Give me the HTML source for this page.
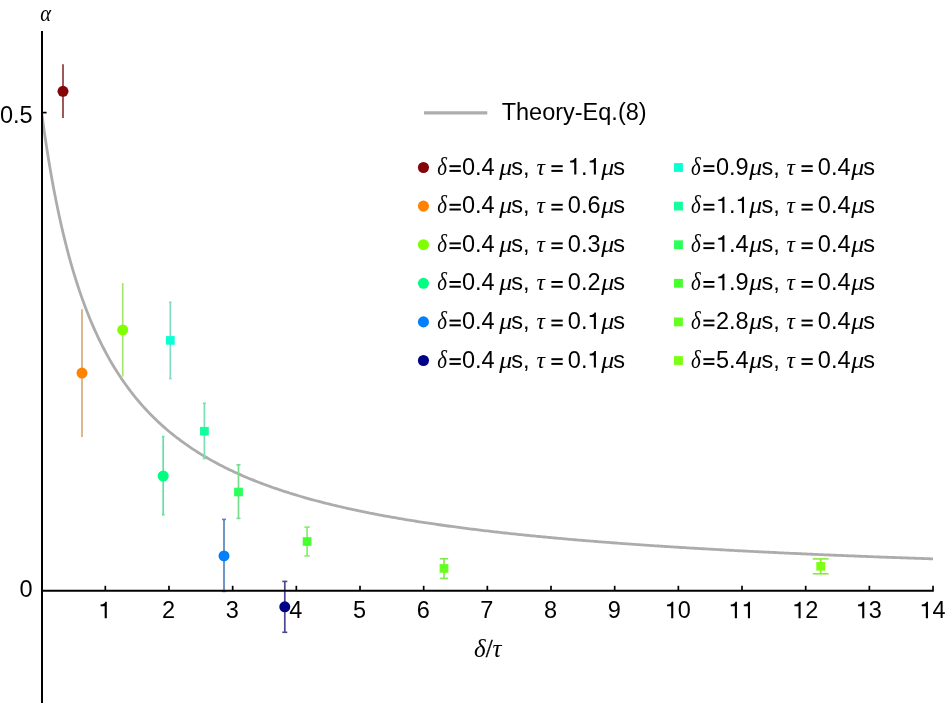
<!DOCTYPE html><html><head><meta charset="utf-8"><style>
html,body{margin:0;padding:0;background:#fff;overflow:hidden;}
svg{display:block;will-change:transform;}
.s{font-family:"Liberation Sans",sans-serif;}
.i{font-family:"Liberation Serif",serif;font-style:italic;}
.r{font-family:"Liberation Serif",serif;}
</style></head><body>
<svg width="946" height="703" viewBox="0 0 946 703">
<defs><path id="one" d="M362 0 L362 700 L298 700 C284 640 236 592 97 581 L97 511 L272 511 L272 0 Z"/>
<clipPath id="cp"><rect x="42" y="0" width="904" height="703"/></clipPath></defs>
<polyline clip-path="url(#cp)" points="41.65,112.60 43.43,125.62 45.22,137.96 47.00,149.65 48.78,160.76 50.56,171.32 52.35,181.38 54.13,190.96 55.91,200.10 57.69,208.84 59.48,217.20 61.26,225.19 63.04,232.85 64.83,240.20 66.61,247.25 68.39,254.02 70.17,260.54 71.96,266.80 73.74,272.83 75.52,278.64 77.31,284.24 79.09,289.65 80.87,294.87 82.65,299.90 84.44,304.78 86.22,309.49 88.00,314.04 89.78,318.46 91.57,322.73 93.35,326.87 95.13,330.89 96.92,334.78 98.70,338.56 100.48,342.23 102.26,345.80 104.05,349.26 105.83,352.63 107.61,355.90 109.39,359.09 111.18,362.19 112.96,365.21 114.74,368.15 116.53,371.01 118.31,373.80 120.09,376.53 121.87,379.18 123.66,381.77 125.44,384.29 127.22,386.76 129.01,389.17 130.79,391.52 132.57,393.82 134.35,396.06 136.14,398.26 137.92,400.40 139.70,402.50 141.48,404.55 143.27,406.56 145.05,408.53 146.83,410.45 148.62,412.34 150.40,414.18 152.18,415.99 153.96,417.76 155.75,419.49 157.53,421.19 159.31,422.86 161.09,424.49 162.88,426.10 164.66,427.67 166.44,429.21 168.23,430.73 170.01,432.21 171.79,433.67 173.57,435.10 175.36,436.51 177.14,437.89 178.92,439.24 180.71,440.58 182.49,441.89 184.27,443.17 186.05,444.44 187.84,445.68 189.62,446.90 191.40,448.10 193.18,449.29 194.97,450.45 196.75,451.59 198.53,452.72 200.32,453.82 202.10,454.91 203.88,455.98 205.66,457.04 207.45,458.08 209.23,459.10 211.01,460.11 212.79,461.10 214.58,462.08 216.36,463.04 218.14,463.99 219.93,464.92 221.71,465.84 223.49,466.75 225.27,467.64 227.06,468.52 228.84,469.39 230.62,470.25 232.41,471.09 234.19,471.93 235.97,472.75 237.75,473.56 239.54,474.36 241.32,475.14 243.10,475.92 244.88,476.69 246.67,477.44 248.45,478.19 250.23,478.93 252.02,479.66 253.80,480.37 255.58,481.08 257.36,481.78 259.15,482.47 260.93,483.16 262.71,483.83 264.50,484.49 266.28,485.15 268.06,485.80 269.84,486.44 271.63,487.07 273.41,487.70 275.19,488.32 276.97,488.93 278.76,489.53 280.54,490.13 282.32,490.72 284.11,491.30 285.89,491.88 287.67,492.45 289.45,493.01 291.24,493.57 293.02,494.11 294.80,494.66 296.58,495.20 298.37,495.73 300.15,496.25 301.93,496.77 303.72,497.29 305.50,497.80 307.28,498.30 309.06,498.80 310.85,499.29 312.63,499.78 314.41,500.26 316.20,500.74 317.98,501.21 319.76,501.68 321.54,502.14 323.33,502.60 325.11,503.05 326.89,503.50 328.67,503.94 330.46,504.38 332.24,504.81 334.02,505.24 335.81,505.67 337.59,506.09 339.37,506.51 341.15,506.92 342.94,507.33 344.72,507.74 346.50,508.14 348.28,508.54 350.07,508.93 351.85,509.32 353.63,509.71 355.42,510.09 357.20,510.47 358.98,510.85 360.76,511.22 362.55,511.59 364.33,511.95 366.11,512.31 367.90,512.67 369.68,513.03 371.46,513.38 373.24,513.73 375.03,514.07 376.81,514.42 378.59,514.76 380.37,515.09 382.16,515.43 383.94,515.76 385.72,516.09 387.51,516.41 389.29,516.73 391.07,517.05 392.85,517.37 394.64,517.68 396.42,517.99 398.20,518.30 399.98,518.61 401.77,518.91 403.55,519.21 405.33,519.51 407.12,519.81 408.90,520.10 410.68,520.39 412.46,520.68 414.25,520.97 416.03,521.25 417.81,521.53 419.60,521.81 421.38,522.09 423.16,522.36 424.94,522.64 426.73,522.91 428.51,523.18 430.29,523.44 432.07,523.71 433.86,523.97 435.64,524.23 437.42,524.49 439.21,524.74 440.99,525.00 442.77,525.25 444.55,525.50 446.34,525.75 448.12,526.00 449.90,526.24 451.68,526.48 453.47,526.72 455.25,526.96 457.03,527.20 458.82,527.44 460.60,527.67 462.38,527.90 464.16,528.13 465.95,528.36 467.73,528.59 469.51,528.81 471.30,529.04 473.08,529.26 474.86,529.48 476.64,529.70 478.43,529.92 480.21,530.13 481.99,530.35 483.77,530.56 485.56,530.77 487.34,530.98 489.12,531.19 490.91,531.40 492.69,531.60 494.47,531.81 496.25,532.01 498.04,532.21 499.82,532.41 501.60,532.61 503.38,532.81 505.17,533.00 506.95,533.20 508.73,533.39 510.52,533.58 512.30,533.77 514.08,533.96 515.86,534.15 517.65,534.34 519.43,534.52 521.21,534.71 523.00,534.89 524.78,535.07 526.56,535.25 528.34,535.43 530.13,535.61 531.91,535.79 533.69,535.97 535.47,536.14 537.26,536.32 539.04,536.49 540.82,536.66 542.61,536.83 544.39,537.00 546.17,537.17 547.95,537.34 549.74,537.50 551.52,537.67 553.30,537.83 555.08,538.00 556.87,538.16 558.65,538.32 560.43,538.48 562.22,538.64 564.00,538.80 565.78,538.96 567.56,539.11 569.35,539.27 571.13,539.42 572.91,539.58 574.70,539.73 576.48,539.88 578.26,540.03 580.04,540.18 581.83,540.33 583.61,540.48 585.39,540.63 587.17,540.78 588.96,540.92 590.74,541.07 592.52,541.21 594.31,541.35 596.09,541.50 597.87,541.64 599.65,541.78 601.44,541.92 603.22,542.06 605.00,542.20 606.78,542.33 608.57,542.47 610.35,542.61 612.13,542.74 613.92,542.88 615.70,543.01 617.48,543.14 619.26,543.28 621.05,543.41 622.83,543.54 624.61,543.67 626.40,543.80 628.18,543.93 629.96,544.06 631.74,544.18 633.53,544.31 635.31,544.44 637.09,544.56 638.87,544.69 640.66,544.81 642.44,544.93 644.22,545.06 646.01,545.18 647.79,545.30 649.57,545.42 651.35,545.54 653.14,545.66 654.92,545.78 656.70,545.90 658.48,546.01 660.27,546.13 662.05,546.25 663.83,546.36 665.62,546.48 667.40,546.59 669.18,546.71 670.96,546.82 672.75,546.93 674.53,547.04 676.31,547.15 678.10,547.27 679.88,547.38 681.66,547.49 683.44,547.60 685.23,547.70 687.01,547.81 688.79,547.92 690.57,548.03 692.36,548.13 694.14,548.24 695.92,548.35 697.71,548.45 699.49,548.56 701.27,548.66 703.05,548.76 704.84,548.87 706.62,548.97 708.40,549.07 710.18,549.17 711.97,549.27 713.75,549.37 715.53,549.47 717.32,549.57 719.10,549.67 720.88,549.77 722.66,549.87 724.45,549.97 726.23,550.06 728.01,550.16 729.80,550.26 731.58,550.35 733.36,550.45 735.14,550.54 736.93,550.64 738.71,550.73 740.49,550.82 742.27,550.92 744.06,551.01 745.84,551.10 747.62,551.19 749.41,551.29 751.19,551.38 752.97,551.47 754.75,551.56 756.54,551.65 758.32,551.74 760.10,551.83 761.89,551.91 763.67,552.00 765.45,552.09 767.23,552.18 769.02,552.26 770.80,552.35 772.58,552.44 774.36,552.52 776.15,552.61 777.93,552.69 779.71,552.78 781.50,552.86 783.28,552.95 785.06,553.03 786.84,553.11 788.63,553.20 790.41,553.28 792.19,553.36 793.97,553.44 795.76,553.52 797.54,553.60 799.32,553.68 801.11,553.76 802.89,553.84 804.67,553.92 806.45,554.00 808.24,554.08 810.02,554.16 811.80,554.24 813.59,554.32 815.37,554.39 817.15,554.47 818.93,554.55 820.72,554.63 822.50,554.70 824.28,554.78 826.06,554.85 827.85,554.93 829.63,555.00 831.41,555.08 833.20,555.15 834.98,555.23 836.76,555.30 838.54,555.37 840.33,555.45 842.11,555.52 843.89,555.59 845.67,555.66 847.46,555.74 849.24,555.81 851.02,555.88 852.81,555.95 854.59,556.02 856.37,556.09 858.15,556.16 859.94,556.23 861.72,556.30 863.50,556.37 865.29,556.44 867.07,556.51 868.85,556.58 870.63,556.65 872.42,556.71 874.20,556.78 875.98,556.85 877.76,556.92 879.55,556.98 881.33,557.05 883.11,557.12 884.90,557.18 886.68,557.25 888.46,557.31 890.24,557.38 892.03,557.44 893.81,557.51 895.59,557.57 897.37,557.64 899.16,557.70 900.94,557.77 902.72,557.83 904.51,557.89 906.29,557.96 908.07,558.02 909.85,558.08 911.64,558.14 913.42,558.21 915.20,558.27 916.99,558.33 918.77,558.39 920.55,558.45 922.33,558.51 924.12,558.57 925.90,558.63 927.68,558.69 929.46,558.75 931.25,558.81 933.03,558.87" fill="none" stroke="#acacac" stroke-width="2.8" stroke-linejoin="round"/>
<use href="#one" transform="translate(98.29,618.20) scale(0.02350,-0.02350)"/>
<text class="s" x="161.96" y="618.20" font-size="23.50">2</text>
<text class="s" x="225.63" y="618.20" font-size="23.50">3</text>
<text class="s" x="289.30" y="618.20" font-size="23.50">4</text>
<text class="s" x="352.97" y="618.20" font-size="23.50">5</text>
<text class="s" x="416.64" y="618.20" font-size="23.50">6</text>
<text class="s" x="480.31" y="618.20" font-size="23.50">7</text>
<text class="s" x="543.98" y="618.20" font-size="23.50">8</text>
<text class="s" x="607.65" y="618.20" font-size="23.50">9</text>
<use href="#one" transform="translate(664.78,618.20) scale(0.02350,-0.02350)"/>
<text class="s" x="677.85" y="618.20" font-size="23.50">0</text>
<use href="#one" transform="translate(728.45,618.20) scale(0.02350,-0.02350)"/>
<use href="#one" transform="translate(741.52,618.20) scale(0.02350,-0.02350)"/>
<use href="#one" transform="translate(792.12,618.20) scale(0.02350,-0.02350)"/>
<text class="s" x="805.19" y="618.20" font-size="23.50">2</text>
<use href="#one" transform="translate(855.79,618.20) scale(0.02350,-0.02350)"/>
<text class="s" x="868.86" y="618.20" font-size="23.50">3</text>
<use href="#one" transform="translate(919.46,618.20) scale(0.02350,-0.02350)"/>
<text class="s" x="932.53" y="618.20" font-size="23.50">4</text>
<text class="s" x="-0.07" y="122.60" font-size="23.50">0.5</text>
<text class="s" x="19.53" y="596.60" font-size="23.50">0</text>
<text class="i" transform="translate(40.3,20.8) scale(0.855,1)" x="0" y="0" font-size="24">&#945;</text>
<text x="474.0" y="656.6" font-size="25"><tspan class="i">&#948;</tspan><tspan class="r" stroke="#000" stroke-width="0.35">/</tspan><tspan class="i">&#964;</tspan></text>
<line x1="170.30" y1="302.30" x2="170.30" y2="378.60" stroke="#82dcc8" stroke-width="1.7"/>
<line x1="169.00" y1="302.30" x2="171.60" y2="302.30" stroke="#82dcc8" stroke-width="1.6"/>
<line x1="169.00" y1="378.60" x2="171.60" y2="378.60" stroke="#82dcc8" stroke-width="1.6"/>
<line x1="204.40" y1="403.30" x2="204.40" y2="458.50" stroke="#78e1b4" stroke-width="1.7"/>
<line x1="202.75" y1="403.30" x2="206.05" y2="403.30" stroke="#78e1b4" stroke-width="1.6"/>
<line x1="202.75" y1="458.50" x2="206.05" y2="458.50" stroke="#78e1b4" stroke-width="1.6"/>
<line x1="238.50" y1="464.80" x2="238.50" y2="518.40" stroke="#78dc8c" stroke-width="1.7"/>
<line x1="236.50" y1="464.80" x2="240.50" y2="464.80" stroke="#78dc8c" stroke-width="1.6"/>
<line x1="236.50" y1="518.40" x2="240.50" y2="518.40" stroke="#78dc8c" stroke-width="1.6"/>
<line x1="307.10" y1="527.10" x2="307.10" y2="555.90" stroke="#82f06e" stroke-width="1.7"/>
<line x1="304.40" y1="527.10" x2="309.80" y2="527.10" stroke="#82f06e" stroke-width="1.6"/>
<line x1="304.40" y1="555.90" x2="309.80" y2="555.90" stroke="#82f06e" stroke-width="1.6"/>
<line x1="444.00" y1="558.80" x2="444.00" y2="578.40" stroke="#80ec50" stroke-width="1.7"/>
<line x1="439.90" y1="558.80" x2="448.10" y2="558.80" stroke="#80ec50" stroke-width="1.6"/>
<line x1="439.90" y1="578.40" x2="448.10" y2="578.40" stroke="#80ec50" stroke-width="1.6"/>
<line x1="820.70" y1="558.90" x2="820.70" y2="573.80" stroke="#88ea3c" stroke-width="1.7"/>
<line x1="812.80" y1="558.90" x2="828.60" y2="558.90" stroke="#88ea3c" stroke-width="1.6"/>
<line x1="812.80" y1="573.80" x2="828.60" y2="573.80" stroke="#88ea3c" stroke-width="1.6"/>
<line x1="63.00" y1="64.20" x2="63.00" y2="118.00" stroke="#8c3c3c" stroke-width="1.7"/>
<line x1="82.00" y1="309.30" x2="82.00" y2="437.00" stroke="#d7aa7d" stroke-width="1.7"/>
<line x1="122.70" y1="283.00" x2="122.70" y2="376.60" stroke="#aae66e" stroke-width="1.7"/>
<line x1="163.20" y1="436.60" x2="163.20" y2="514.80" stroke="#64e1a0" stroke-width="1.7"/>
<line x1="161.95" y1="436.60" x2="164.45" y2="436.60" stroke="#64e1a0" stroke-width="1.6"/>
<line x1="161.95" y1="514.80" x2="164.45" y2="514.80" stroke="#64e1a0" stroke-width="1.6"/>
<line x1="224.00" y1="519.40" x2="224.00" y2="591.40" stroke="#5584bb" stroke-width="1.7"/>
<line x1="222.05" y1="519.40" x2="225.95" y2="519.40" stroke="#5584bb" stroke-width="1.6"/>
<line x1="222.05" y1="591.40" x2="225.95" y2="591.40" stroke="#5584bb" stroke-width="1.6"/>
<line x1="284.80" y1="581.40" x2="284.80" y2="632.30" stroke="#4b4691" stroke-width="1.7"/>
<line x1="282.30" y1="581.40" x2="287.30" y2="581.40" stroke="#4b4691" stroke-width="1.6"/>
<line x1="282.30" y1="632.30" x2="287.30" y2="632.30" stroke="#4b4691" stroke-width="1.6"/>
<line x1="42" y1="31" x2="42" y2="703" stroke="#000" stroke-width="2"/>
<line x1="41" y1="590.8" x2="933.83" y2="590.8" stroke="#000" stroke-width="2"/>
<line x1="105.32" y1="585.8" x2="105.32" y2="590" stroke="#000" stroke-width="1.7"/>
<line x1="168.99" y1="585.8" x2="168.99" y2="590" stroke="#000" stroke-width="1.7"/>
<line x1="232.66" y1="585.8" x2="232.66" y2="590" stroke="#000" stroke-width="1.7"/>
<line x1="296.33" y1="585.8" x2="296.33" y2="590" stroke="#000" stroke-width="1.7"/>
<line x1="360.00" y1="585.8" x2="360.00" y2="590" stroke="#000" stroke-width="1.7"/>
<line x1="423.67" y1="585.8" x2="423.67" y2="590" stroke="#000" stroke-width="1.7"/>
<line x1="487.34" y1="585.8" x2="487.34" y2="590" stroke="#000" stroke-width="1.7"/>
<line x1="551.01" y1="585.8" x2="551.01" y2="590" stroke="#000" stroke-width="1.7"/>
<line x1="614.68" y1="585.8" x2="614.68" y2="590" stroke="#000" stroke-width="1.7"/>
<line x1="678.35" y1="585.8" x2="678.35" y2="590" stroke="#000" stroke-width="1.7"/>
<line x1="742.02" y1="585.8" x2="742.02" y2="590" stroke="#000" stroke-width="1.7"/>
<line x1="805.69" y1="585.8" x2="805.69" y2="590" stroke="#000" stroke-width="1.7"/>
<line x1="869.36" y1="585.8" x2="869.36" y2="590" stroke="#000" stroke-width="1.7"/>
<line x1="933.03" y1="585.8" x2="933.03" y2="590" stroke="#000" stroke-width="1.7"/>
<line x1="42" y1="112.6" x2="46.6" y2="112.6" stroke="#000" stroke-width="1.7"/>
<rect x="165.90" y="336.10" width="8.8" height="8.6" fill="#0affd2"/>
<rect x="200.00" y="426.90" width="8.8" height="8.6" fill="#14ff9b"/>
<rect x="234.10" y="487.70" width="8.8" height="8.6" fill="#2dff5a"/>
<rect x="302.70" y="537.20" width="8.8" height="8.6" fill="#46ff2d"/>
<rect x="439.60" y="564.10" width="8.8" height="8.6" fill="#64ff1e"/>
<rect x="816.30" y="562.00" width="8.8" height="8.6" fill="#7dff14"/>
<circle cx="63.00" cy="91.30" r="5.5" fill="#860408"/>
<circle cx="82.00" cy="373.10" r="5.5" fill="#ff8200"/>
<circle cx="122.70" cy="329.90" r="5.5" fill="#80ff00"/>
<circle cx="163.20" cy="476.00" r="5.5" fill="#00ff80"/>
<circle cx="224.00" cy="555.90" r="5.5" fill="#0080ff"/>
<circle cx="284.80" cy="606.80" r="5.5" fill="#020287"/>
<line x1="424" y1="112.85" x2="487.3" y2="112.85" stroke="#adadad" stroke-width="3.1"/>
<text class="s" x="501.67" y="120.2" font-size="23.50">Theory-Eq.(8)</text>
<circle cx="423.45" cy="167.50" r="5.55" fill="#860408"/>
<text class="i" transform="translate(437.19,174.50) scale(0.890,1.050)" x="0" y="0" font-size="23.5">&#948;</text>
<rect x="449.50" y="165.20" width="11.30" height="2.0" fill="#000"/>
<rect x="449.50" y="169.90" width="11.30" height="2.0" fill="#000"/>
<text class="s" x="462.03" y="174.50" font-size="23.50">0.4</text>
<text class="i" transform="translate(499.23,174.50) scale(1.100,0.950)" x="0" y="0" font-size="23.5">&#956;</text>
<text class="s" x="511.25" y="174.50" font-size="23.5">s,</text>
<text class="i" x="536.58" y="174.50" font-size="23.5">&#964;</text>
<rect x="551.40" y="165.20" width="11.30" height="2.0" fill="#000"/>
<rect x="551.40" y="169.90" width="11.30" height="2.0" fill="#000"/>
<use href="#one" transform="translate(567.83,174.50) scale(0.02350,-0.02350)"/>
<text class="s" x="580.90" y="174.50" font-size="23.50">.</text>
<use href="#one" transform="translate(587.43,174.50) scale(0.02350,-0.02350)"/>
<text class="i" transform="translate(601.13,174.50) scale(1.100,0.950)" x="0" y="0" font-size="23.5">&#956;</text>
<text class="s" x="613.35" y="174.50" font-size="23.5">s</text>
<rect x="674.0" y="163.10" width="8.9" height="8.8" fill="#0affd2"/>
<text class="i" transform="translate(691.09,174.50) scale(0.890,1.050)" x="0" y="0" font-size="23.5">&#948;</text>
<rect x="703.40" y="165.20" width="11.00" height="2.0" fill="#000"/>
<rect x="703.40" y="169.90" width="11.00" height="2.0" fill="#000"/>
<text class="s" x="715.93" y="174.50" font-size="23.50">0.9</text>
<text class="i" transform="translate(749.13,174.50) scale(1.100,0.950)" x="0" y="0" font-size="23.5">&#956;</text>
<text class="s" x="761.45" y="174.50" font-size="23.5">s,</text>
<text class="i" x="786.48" y="174.50" font-size="23.5">&#964;</text>
<rect x="801.50" y="165.20" width="11.20" height="2.0" fill="#000"/>
<rect x="801.50" y="169.90" width="11.20" height="2.0" fill="#000"/>
<text class="s" x="817.83" y="174.50" font-size="23.50">0.4</text>
<text class="i" transform="translate(851.23,174.50) scale(1.100,0.950)" x="0" y="0" font-size="23.5">&#956;</text>
<text class="s" x="863.25" y="174.50" font-size="23.5">s</text>
<circle cx="423.45" cy="206.10" r="5.55" fill="#ff8200"/>
<text class="i" transform="translate(437.19,213.10) scale(0.890,1.050)" x="0" y="0" font-size="23.5">&#948;</text>
<rect x="449.50" y="203.80" width="11.30" height="2.0" fill="#000"/>
<rect x="449.50" y="208.50" width="11.30" height="2.0" fill="#000"/>
<text class="s" x="462.03" y="213.10" font-size="23.50">0.4</text>
<text class="i" transform="translate(499.23,213.10) scale(1.100,0.950)" x="0" y="0" font-size="23.5">&#956;</text>
<text class="s" x="511.25" y="213.10" font-size="23.5">s,</text>
<text class="i" x="536.58" y="213.10" font-size="23.5">&#964;</text>
<rect x="551.40" y="203.80" width="11.30" height="2.0" fill="#000"/>
<rect x="551.40" y="208.50" width="11.30" height="2.0" fill="#000"/>
<text class="s" x="567.83" y="213.10" font-size="23.50">0.6</text>
<text class="i" transform="translate(601.13,213.10) scale(1.100,0.950)" x="0" y="0" font-size="23.5">&#956;</text>
<text class="s" x="613.35" y="213.10" font-size="23.5">s</text>
<rect x="674.0" y="201.70" width="8.9" height="8.8" fill="#14ff9b"/>
<text class="i" transform="translate(691.09,213.10) scale(0.890,1.050)" x="0" y="0" font-size="23.5">&#948;</text>
<rect x="703.40" y="203.80" width="11.00" height="2.0" fill="#000"/>
<rect x="703.40" y="208.50" width="11.00" height="2.0" fill="#000"/>
<use href="#one" transform="translate(715.93,213.10) scale(0.02350,-0.02350)"/>
<text class="s" x="729.00" y="213.10" font-size="23.50">.</text>
<use href="#one" transform="translate(735.53,213.10) scale(0.02350,-0.02350)"/>
<text class="i" transform="translate(749.13,213.10) scale(1.100,0.950)" x="0" y="0" font-size="23.5">&#956;</text>
<text class="s" x="761.45" y="213.10" font-size="23.5">s,</text>
<text class="i" x="786.48" y="213.10" font-size="23.5">&#964;</text>
<rect x="801.50" y="203.80" width="11.20" height="2.0" fill="#000"/>
<rect x="801.50" y="208.50" width="11.20" height="2.0" fill="#000"/>
<text class="s" x="817.83" y="213.10" font-size="23.50">0.4</text>
<text class="i" transform="translate(851.23,213.10) scale(1.100,0.950)" x="0" y="0" font-size="23.5">&#956;</text>
<text class="s" x="863.25" y="213.10" font-size="23.5">s</text>
<circle cx="423.45" cy="244.70" r="5.55" fill="#80ff00"/>
<text class="i" transform="translate(437.19,251.70) scale(0.890,1.050)" x="0" y="0" font-size="23.5">&#948;</text>
<rect x="449.50" y="242.40" width="11.30" height="2.0" fill="#000"/>
<rect x="449.50" y="247.10" width="11.30" height="2.0" fill="#000"/>
<text class="s" x="462.03" y="251.70" font-size="23.50">0.4</text>
<text class="i" transform="translate(499.23,251.70) scale(1.100,0.950)" x="0" y="0" font-size="23.5">&#956;</text>
<text class="s" x="511.25" y="251.70" font-size="23.5">s,</text>
<text class="i" x="536.58" y="251.70" font-size="23.5">&#964;</text>
<rect x="551.40" y="242.40" width="11.30" height="2.0" fill="#000"/>
<rect x="551.40" y="247.10" width="11.30" height="2.0" fill="#000"/>
<text class="s" x="567.83" y="251.70" font-size="23.50">0.3</text>
<text class="i" transform="translate(601.13,251.70) scale(1.100,0.950)" x="0" y="0" font-size="23.5">&#956;</text>
<text class="s" x="613.35" y="251.70" font-size="23.5">s</text>
<rect x="674.0" y="240.30" width="8.9" height="8.8" fill="#2dff5a"/>
<text class="i" transform="translate(691.09,251.70) scale(0.890,1.050)" x="0" y="0" font-size="23.5">&#948;</text>
<rect x="703.40" y="242.40" width="11.00" height="2.0" fill="#000"/>
<rect x="703.40" y="247.10" width="11.00" height="2.0" fill="#000"/>
<use href="#one" transform="translate(715.93,251.70) scale(0.02350,-0.02350)"/>
<text class="s" x="729.00" y="251.70" font-size="23.50">.4</text>
<text class="i" transform="translate(749.13,251.70) scale(1.100,0.950)" x="0" y="0" font-size="23.5">&#956;</text>
<text class="s" x="761.45" y="251.70" font-size="23.5">s,</text>
<text class="i" x="786.48" y="251.70" font-size="23.5">&#964;</text>
<rect x="801.50" y="242.40" width="11.20" height="2.0" fill="#000"/>
<rect x="801.50" y="247.10" width="11.20" height="2.0" fill="#000"/>
<text class="s" x="817.83" y="251.70" font-size="23.50">0.4</text>
<text class="i" transform="translate(851.23,251.70) scale(1.100,0.950)" x="0" y="0" font-size="23.5">&#956;</text>
<text class="s" x="863.25" y="251.70" font-size="23.5">s</text>
<circle cx="423.45" cy="283.30" r="5.55" fill="#00ff80"/>
<text class="i" transform="translate(437.19,290.30) scale(0.890,1.050)" x="0" y="0" font-size="23.5">&#948;</text>
<rect x="449.50" y="281.00" width="11.30" height="2.0" fill="#000"/>
<rect x="449.50" y="285.70" width="11.30" height="2.0" fill="#000"/>
<text class="s" x="462.03" y="290.30" font-size="23.50">0.4</text>
<text class="i" transform="translate(499.23,290.30) scale(1.100,0.950)" x="0" y="0" font-size="23.5">&#956;</text>
<text class="s" x="511.25" y="290.30" font-size="23.5">s,</text>
<text class="i" x="536.58" y="290.30" font-size="23.5">&#964;</text>
<rect x="551.40" y="281.00" width="11.30" height="2.0" fill="#000"/>
<rect x="551.40" y="285.70" width="11.30" height="2.0" fill="#000"/>
<text class="s" x="567.83" y="290.30" font-size="23.50">0.2</text>
<text class="i" transform="translate(601.13,290.30) scale(1.100,0.950)" x="0" y="0" font-size="23.5">&#956;</text>
<text class="s" x="613.35" y="290.30" font-size="23.5">s</text>
<rect x="674.0" y="278.90" width="8.9" height="8.8" fill="#46ff2d"/>
<text class="i" transform="translate(691.09,290.30) scale(0.890,1.050)" x="0" y="0" font-size="23.5">&#948;</text>
<rect x="703.40" y="281.00" width="11.00" height="2.0" fill="#000"/>
<rect x="703.40" y="285.70" width="11.00" height="2.0" fill="#000"/>
<use href="#one" transform="translate(715.93,290.30) scale(0.02350,-0.02350)"/>
<text class="s" x="729.00" y="290.30" font-size="23.50">.9</text>
<text class="i" transform="translate(749.13,290.30) scale(1.100,0.950)" x="0" y="0" font-size="23.5">&#956;</text>
<text class="s" x="761.45" y="290.30" font-size="23.5">s,</text>
<text class="i" x="786.48" y="290.30" font-size="23.5">&#964;</text>
<rect x="801.50" y="281.00" width="11.20" height="2.0" fill="#000"/>
<rect x="801.50" y="285.70" width="11.20" height="2.0" fill="#000"/>
<text class="s" x="817.83" y="290.30" font-size="23.50">0.4</text>
<text class="i" transform="translate(851.23,290.30) scale(1.100,0.950)" x="0" y="0" font-size="23.5">&#956;</text>
<text class="s" x="863.25" y="290.30" font-size="23.5">s</text>
<circle cx="423.45" cy="321.90" r="5.55" fill="#0080ff"/>
<text class="i" transform="translate(437.19,328.90) scale(0.890,1.050)" x="0" y="0" font-size="23.5">&#948;</text>
<rect x="449.50" y="319.60" width="11.30" height="2.0" fill="#000"/>
<rect x="449.50" y="324.30" width="11.30" height="2.0" fill="#000"/>
<text class="s" x="462.03" y="328.90" font-size="23.50">0.4</text>
<text class="i" transform="translate(499.23,328.90) scale(1.100,0.950)" x="0" y="0" font-size="23.5">&#956;</text>
<text class="s" x="511.25" y="328.90" font-size="23.5">s,</text>
<text class="i" x="536.58" y="328.90" font-size="23.5">&#964;</text>
<rect x="551.40" y="319.60" width="11.30" height="2.0" fill="#000"/>
<rect x="551.40" y="324.30" width="11.30" height="2.0" fill="#000"/>
<text class="s" x="567.83" y="328.90" font-size="23.50">0.</text>
<use href="#one" transform="translate(587.43,328.90) scale(0.02350,-0.02350)"/>
<text class="i" transform="translate(601.13,328.90) scale(1.100,0.950)" x="0" y="0" font-size="23.5">&#956;</text>
<text class="s" x="613.35" y="328.90" font-size="23.5">s</text>
<rect x="674.0" y="317.50" width="8.9" height="8.8" fill="#64ff1e"/>
<text class="i" transform="translate(691.09,328.90) scale(0.890,1.050)" x="0" y="0" font-size="23.5">&#948;</text>
<rect x="703.40" y="319.60" width="11.00" height="2.0" fill="#000"/>
<rect x="703.40" y="324.30" width="11.00" height="2.0" fill="#000"/>
<text class="s" x="715.93" y="328.90" font-size="23.50">2.8</text>
<text class="i" transform="translate(749.13,328.90) scale(1.100,0.950)" x="0" y="0" font-size="23.5">&#956;</text>
<text class="s" x="761.45" y="328.90" font-size="23.5">s,</text>
<text class="i" x="786.48" y="328.90" font-size="23.5">&#964;</text>
<rect x="801.50" y="319.60" width="11.20" height="2.0" fill="#000"/>
<rect x="801.50" y="324.30" width="11.20" height="2.0" fill="#000"/>
<text class="s" x="817.83" y="328.90" font-size="23.50">0.4</text>
<text class="i" transform="translate(851.23,328.90) scale(1.100,0.950)" x="0" y="0" font-size="23.5">&#956;</text>
<text class="s" x="863.25" y="328.90" font-size="23.5">s</text>
<circle cx="423.45" cy="360.50" r="5.55" fill="#020287"/>
<text class="i" transform="translate(437.19,367.50) scale(0.890,1.050)" x="0" y="0" font-size="23.5">&#948;</text>
<rect x="449.50" y="358.20" width="11.30" height="2.0" fill="#000"/>
<rect x="449.50" y="362.90" width="11.30" height="2.0" fill="#000"/>
<text class="s" x="462.03" y="367.50" font-size="23.50">0.4</text>
<text class="i" transform="translate(499.23,367.50) scale(1.100,0.950)" x="0" y="0" font-size="23.5">&#956;</text>
<text class="s" x="511.25" y="367.50" font-size="23.5">s,</text>
<text class="i" x="536.58" y="367.50" font-size="23.5">&#964;</text>
<rect x="551.40" y="358.20" width="11.30" height="2.0" fill="#000"/>
<rect x="551.40" y="362.90" width="11.30" height="2.0" fill="#000"/>
<text class="s" x="567.83" y="367.50" font-size="23.50">0.</text>
<use href="#one" transform="translate(587.43,367.50) scale(0.02350,-0.02350)"/>
<text class="i" transform="translate(601.13,367.50) scale(1.100,0.950)" x="0" y="0" font-size="23.5">&#956;</text>
<text class="s" x="613.35" y="367.50" font-size="23.5">s</text>
<rect x="674.0" y="356.10" width="8.9" height="8.8" fill="#7dff14"/>
<text class="i" transform="translate(691.09,367.50) scale(0.890,1.050)" x="0" y="0" font-size="23.5">&#948;</text>
<rect x="703.40" y="358.20" width="11.00" height="2.0" fill="#000"/>
<rect x="703.40" y="362.90" width="11.00" height="2.0" fill="#000"/>
<text class="s" x="715.93" y="367.50" font-size="23.50">5.4</text>
<text class="i" transform="translate(749.13,367.50) scale(1.100,0.950)" x="0" y="0" font-size="23.5">&#956;</text>
<text class="s" x="761.45" y="367.50" font-size="23.5">s,</text>
<text class="i" x="786.48" y="367.50" font-size="23.5">&#964;</text>
<rect x="801.50" y="358.20" width="11.20" height="2.0" fill="#000"/>
<rect x="801.50" y="362.90" width="11.20" height="2.0" fill="#000"/>
<text class="s" x="817.83" y="367.50" font-size="23.50">0.4</text>
<text class="i" transform="translate(851.23,367.50) scale(1.100,0.950)" x="0" y="0" font-size="23.5">&#956;</text>
<text class="s" x="863.25" y="367.50" font-size="23.5">s</text>
</svg></body></html>
